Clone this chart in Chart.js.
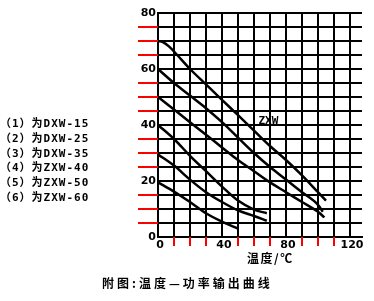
<!DOCTYPE html>
<html>
<head>
<meta charset="utf-8">
<script src="https://cdn.jsdelivr.net/npm/chart.js@4.4.0/dist/chart.umd.min.js"></script>
<style>
  body { margin: 0; background: #fff; }
  #wrap { position: relative; width: 374px; height: 301px; }
  .txt { position: absolute; color: #000; font-family: "Noto Sans CJK SC", sans-serif; font-weight: bold; white-space: nowrap; }
  #legend { left: 0px; top: 117px; font-size: 11px; line-height: 14.8px; letter-spacing: 1px;
            font-family: "DejaVu Sans Mono", "Noto Sans CJK SC", monospace; }
  #xtitle { left: 247px; top: 249px; font-size: 12px; letter-spacing: 1.5px; }
  #caption { left: 102px; top: 274px; font-size: 12px; letter-spacing: 3px; }
</style>
</head>
<body>
<div id="wrap">
  <canvas id="chart" width="374" height="301"></canvas>
  <div class="txt" id="legend"></div>
  <div class="txt" id="xtitle">温度/℃</div>
  <div class="txt" id="caption">附图:温度—功率输出曲线</div>
</div>
<script>
// curve names (legend on the left)
const seriesNames = ['DXW-15', 'DXW-25', 'DXW-35', 'ZXW-40', 'ZXW-50', 'ZXW-60'];
const seriesPrefix = ['（1）为', '（2）为', '（3）为', '（4）为', '（5）为', '（6）为'];

// temperature (x) and power (y), bottom curve first
const temp1 = [0, 10, 20, 30, 40, 50];
const power1 = [19.5, 16.2, 12.5, 8.5, 5.5, 3];
const temp2 = [0, 10, 20, 30, 40, 50, 60, 68];
const power2 = [29.5, 25.5, 20.5, 16, 12.5, 9.5, 7.5, 5.8];
const temp3 = [0, 10, 20, 30, 40, 50, 60, 68];
const power3 = [40, 35, 29, 23.5, 18, 13, 9.8, 8.5];
const temp4 = [0, 10, 20, 30, 40, 50, 60, 70, 80, 90, 100, 104];
const power4 = [50, 45.5, 41, 36.5, 32, 27.5, 23.5, 19.5, 16, 12.5, 9, 7];
const temp5 = [0, 10, 20, 30, 40, 50, 60, 70, 80, 90, 100, 103];
const power5 = [60, 55, 50.5, 46, 41, 35.5, 30, 25, 20.5, 16, 11.5, 9];
const temp6 = [0, 3, 7, 12, 20, 30, 40, 50, 60, 70, 80, 90, 100, 105];
const power6 = [70, 69.6, 68, 65, 60, 54.5, 49, 43.5, 38, 32.5, 27.5, 22, 16, 13];

const xLabels = [0, 40, 80, 120];
const yLabels = [0, 20, 40, 60, 80];

const temps = [temp1, temp2, temp3, temp4, temp5, temp6];
const powers = [power1, power2, power3, power4, power5, power6];

document.getElementById('legend').innerHTML =
  seriesNames.map((n, i) => seriesPrefix[i] + n).join('<br>');

// "ZXW" note placed in data coordinates
const noteText = 'ZXW';
const notePos = { x: 69, y: 41.5 };

const notePlugin = {
  id: 'note',
  afterDatasetsDraw(chart) {
    const { ctx, scales } = chart;
    const px = scales.x.getPixelForValue(notePos.x);
    const py = scales.y.getPixelForValue(notePos.y);
    ctx.save();
    ctx.font = 'bold 11px "DejaVu Sans Mono"';
    ctx.fillStyle = '#000';
    ctx.textAlign = 'center';
    ctx.textBaseline = 'middle';
    ctx.fillText(noteText, px, py);
    ctx.restore();
  }
};

// tick marks outside the grid, left out where a label sits
const stubPlugin = {
  id: 'stubs',
  afterDraw(chart) {
    const { ctx, scales: { x, y } } = chart;
    ctx.save();
    ctx.strokeStyle = 'red';
    ctx.lineWidth = 2;
    ctx.beginPath();
    y.ticks.forEach(t => {
      if (yLabels.includes(t.value)) return;
      const py = Math.round(y.getPixelForValue(t.value));
      ctx.moveTo(y.right - 20, py);
      ctx.lineTo(y.right, py);
    });
    x.ticks.forEach(t => {
      if (xLabels.includes(t.value)) return;
      const px = Math.round(x.getPixelForValue(t.value));
      ctx.moveTo(px, x.top);
      ctx.lineTo(px, x.top + 9);
    });
    ctx.stroke();
    ctx.restore();
  }
};

const datasets = powers.map((p, i) => ({
  label: seriesNames[i],
  data: p.map((v, j) => ({ x: temps[i][j], y: v })),
  borderColor: '#000',
  borderWidth: 2.5,
  pointRadius: 0,
  fill: false,
  cubicInterpolationMode: 'monotone'
}));

const tickFont = { family: 'DejaVu Sans', size: 11, weight: 'bold' };

new Chart(document.getElementById('chart'), {
  type: 'line',
  data: { datasets },
  options: {
    responsive: false,
    animation: false,
    // chart area 158..362 x 13..237
    layout: { padding: { left: 138, right: 12, top: 13, bottom: 44 } },
    plugins: { legend: { display: false }, tooltip: { enabled: false } },
    scales: {
      x: {
        type: 'linear',
        min: 0,
        max: 127.5,
        grid: { color: '#000', lineWidth: 2, drawTicks: false },
        border: { color: '#000', width: 2 },
        ticks: {
          stepSize: 10,
          includeBounds: false,
          maxRotation: 0,
          autoSkip: false,
          padding: 2,
          labelOffset: 2,
          font: tickFont,
          color: '#000',
          callback: v => xLabels.includes(v) ? String(v) : ''
        },
        afterFit: s => { s.height = 20; }
      },
      y: {
        min: 0,
        max: 80,
        grid: { color: '#000', lineWidth: 2, drawTicks: false },
        border: { color: '#000', width: 2 },
        ticks: {
          stepSize: 5,
          autoSkip: false,
          padding: 2,
          font: tickFont,
          color: '#000',
          callback: v => yLabels.includes(v) ? String(v) : ''
        },
        afterFit: s => { s.width = 20; }
      }
    }
  },
  plugins: [stubPlugin, notePlugin]
});
</script>
</body>
</html>
